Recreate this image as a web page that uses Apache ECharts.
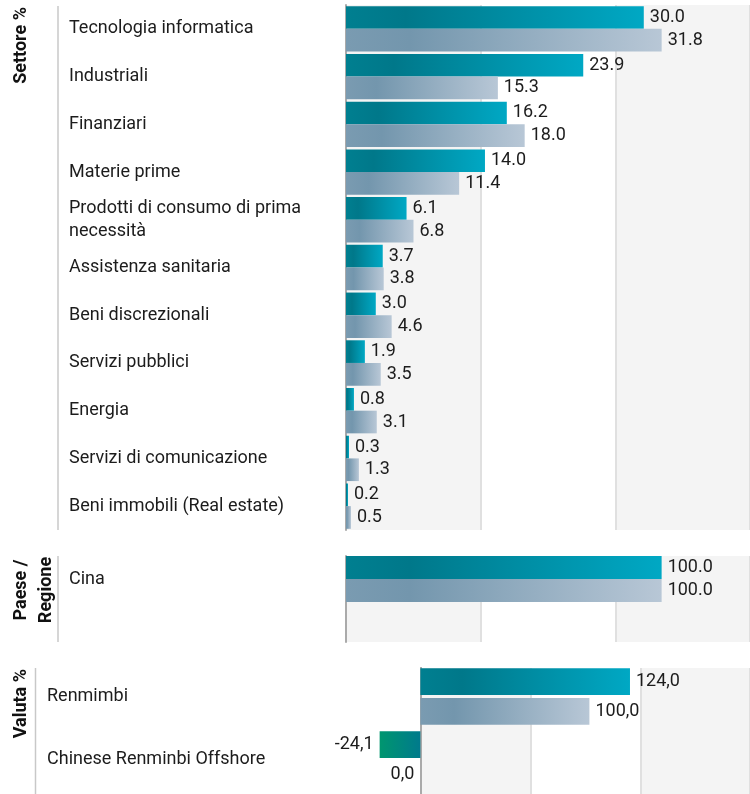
<!DOCTYPE html>
<html>
<head>
<meta charset="utf-8">
<script src="https://cdn.jsdelivr.net/npm/echarts@6/dist/echarts.min.js"></script>
<style>
html,body{margin:0;padding:0;background:#fff;}
#chart{width:750px;height:794px;}
</style>
</head>
<body>
<div id="chart"></div>
<script>
// ---------- data ----------
const sectorCategories = [
  'Tecnologia informatica', 'Industriali', 'Finanziari', 'Materie prime',
  'Prodotti di consumo di prima necessità', 'Assistenza sanitaria',
  'Beni discrezionali', 'Servizi pubblici', 'Energia',
  'Servizi di comunicazione', 'Beni immobili (Real estate)'
];
const sectorFund  = [30.0, 23.9, 16.2, 14.0, 6.1, 3.7, 3.0, 1.9, 0.8, 0.3, 0.2];
const sectorIndex = [31.8, 15.3, 18.0, 11.4, 6.8, 3.8, 4.6, 3.5, 3.1, 1.3, 0.5];

const regionCategories = ['Cina'];
const regionFund  = [100.0];
const regionIndex = [100.0];

const currencyCategories = ['Renmimbi', 'Chinese Renminbi Offshore'];
const currencyFund  = [124.0, -24.1];
const currencyIndex = [100.0, 0.0];

const sectionTitles = ['Settore %', 'Paese /\nRegione', 'Valuta %'];

// ---------- styles ----------
const FONT = 'Roboto';
const FS = 18;
const TXT = '#1c1c1c';
const grad = (stops) => new echarts.graphic.LinearGradient(0, 0, 1, 0, stops);
const fundColor = () => grad([{offset:0,color:'#007f90'},{offset:0.2,color:'#00788a'},{offset:1,color:'#00a8c4'}]);
const indexColor = () => grad([{offset:0,color:'#7a9bb1'},{offset:0.2,color:'#7396ad'},{offset:1,color:'#b8c7d6'}]);
const negColor = () => grad([{offset:0,color:'#00966f'},{offset:1,color:'#007a8c'}]);

const chart = echarts.init(document.getElementById('chart'), null, {renderer:'canvas'});

const bandStyle = {show:true, areaStyle:{color:['#f4f4f4','#ffffff']}};
const gridLineStyle = {show:true, lineStyle:{color:'#e0e0e0', width:2}};
const axisLineStyle = {show:true, lineStyle:{color:'#aaaaaa', width:2}};

function valueAxis(gridIndex, min, max, interval, withBands) {
  return {
    type:'value', gridIndex, min, max, interval,
    axisLine:{show:false}, axisTick:{show:false}, axisLabel:{show:false},
    splitLine: withBands ? gridLineStyle : {show:false},
    splitArea: withBands ? bandStyle : {show:false}
  };
}
function catAxis(gridIndex, data, showLine, margin, showLabel) {
  return {
    type:'category', gridIndex, data, inverse:true,
    axisLine: showLine ? axisLineStyle : {show:false},
    axisTick:{show:false},
    axisLabel: showLabel ? {
      show:true, align:'left', margin, fontFamily:FONT, fontSize:FS, color:TXT,
      lineHeight:23.5, width:262, overflow:'break', padding:[5,0,0,0]
    } : {show:false},
    splitLine:{show:false}
  };
}
const lblDot = {show:true, position:'right', distance:6, fontFamily:FONT, fontSize:FS, color:TXT,
  formatter: p => Number(p.value).toFixed(1)};
const commaFmt = v => Number(v).toFixed(1).replace('.', ',');
function currencyItems(arr, colorFn) {
  return arr.map(v => ({
    value: v,
    itemStyle: {color: v < 0 ? negColor() : colorFn()},
    label: {show:true, position: v > 0 ? 'right' : 'left', distance:6,
      fontFamily:FONT, fontSize:FS, color:TXT, formatter: p => commaFmt(p.value)}
  }));
}

const option = {
  animation:false,
  textStyle:{fontFamily:FONT},
  grid:[
    {left:346, width:406, top:5, height:525},     // 0 sector
    {left:346, width:406, top:556, height:46},    // 1 region bars
    {left:346, width:406, top:556, height:86},    // 2 region background
    {left:346, width:408, top:665, height:126},   // 3 currency bars
    {left:421, width:333, top:668, height:126},   // 4 currency background bands
    {left:346, width:408, top:668, height:126}    // 5 currency axis line
  ],
  xAxis:[
    valueAxis(0, 0, 40.7, 40.7/3, true),
    valueAxis(1, 0, 128, 128/3, false),
    valueAxis(2, 0, 128, 128/3, true),
    valueAxis(3, -44, 195, 65, false),
    valueAxis(4, 0, 195, 65, true),
    valueAxis(5, -44, 195, 65, false)
  ],
  yAxis:[
    catAxis(0, sectorCategories, true, 277, true),
    catAxis(1, regionCategories, false, 277, true),
    catAxis(2, [''], true, 0, false),
    catAxis(3, currencyCategories, false, 299, true),
    catAxis(4, [''], true, 0, false),
    catAxis(5, [''], true, 0, false)
  ],
  series:[
    {type:'bar', xAxisIndex:0, yAxisIndex:0, data:sectorFund, barGap:'0%', barCategoryGap:'5%',
      itemStyle:{color:fundColor()}, label:lblDot, z:3},
    {type:'bar', xAxisIndex:0, yAxisIndex:0, data:sectorIndex, barGap:'0%', barCategoryGap:'5%',
      itemStyle:{color:indexColor()}, label:lblDot, z:3},
    {type:'bar', xAxisIndex:1, yAxisIndex:1, data:regionFund, barGap:'0%', barCategoryGap:'0%',
      itemStyle:{color:fundColor()}, label:lblDot, z:3},
    {type:'bar', xAxisIndex:1, yAxisIndex:1, data:regionIndex, barGap:'0%', barCategoryGap:'0%',
      itemStyle:{color:indexColor()}, label:lblDot, z:3},
    {type:'bar', xAxisIndex:3, yAxisIndex:3, data:currencyItems(currencyFund, fundColor), barGap:'12%', barCategoryGap:'10%', z:3},
    {type:'bar', xAxisIndex:3, yAxisIndex:3, data:currencyItems(currencyIndex, indexColor), barGap:'12%', barCategoryGap:'10%', z:3}
  ],
  graphic:[
    {type:'line', shape:{x1:58, y1:6, x2:58, y2:530}, style:{stroke:'#c8c8c8', lineWidth:1.5}},
    {type:'line', shape:{x1:58, y1:556, x2:58, y2:642}, style:{stroke:'#c8c8c8', lineWidth:1.5}},
    {type:'line', shape:{x1:35.5, y1:668, x2:35.5, y2:794}, style:{stroke:'#c8c8c8', lineWidth:1.5}},
    {type:'text', x:21, y:7, rotation:Math.PI/2,
      style:{text:sectionTitles[0], textAlign:'right', textVerticalAlign:'middle',
        font:'bold 18px ' + FONT, fill:'#111'}},
    {type:'text', x:34, y:590, rotation:Math.PI/2,
      style:{text:sectionTitles[1], textAlign:'center', textVerticalAlign:'middle',
        font:'bold 18px ' + FONT, fill:'#111', lineHeight:25}},
    {type:'text', x:21, y:669, rotation:Math.PI/2,
      style:{text:sectionTitles[2], textAlign:'right', textVerticalAlign:'middle',
        font:'bold 18px ' + FONT, fill:'#111'}}
  ]
};
chart.setOption(option);
</script>
</body>
</html>
